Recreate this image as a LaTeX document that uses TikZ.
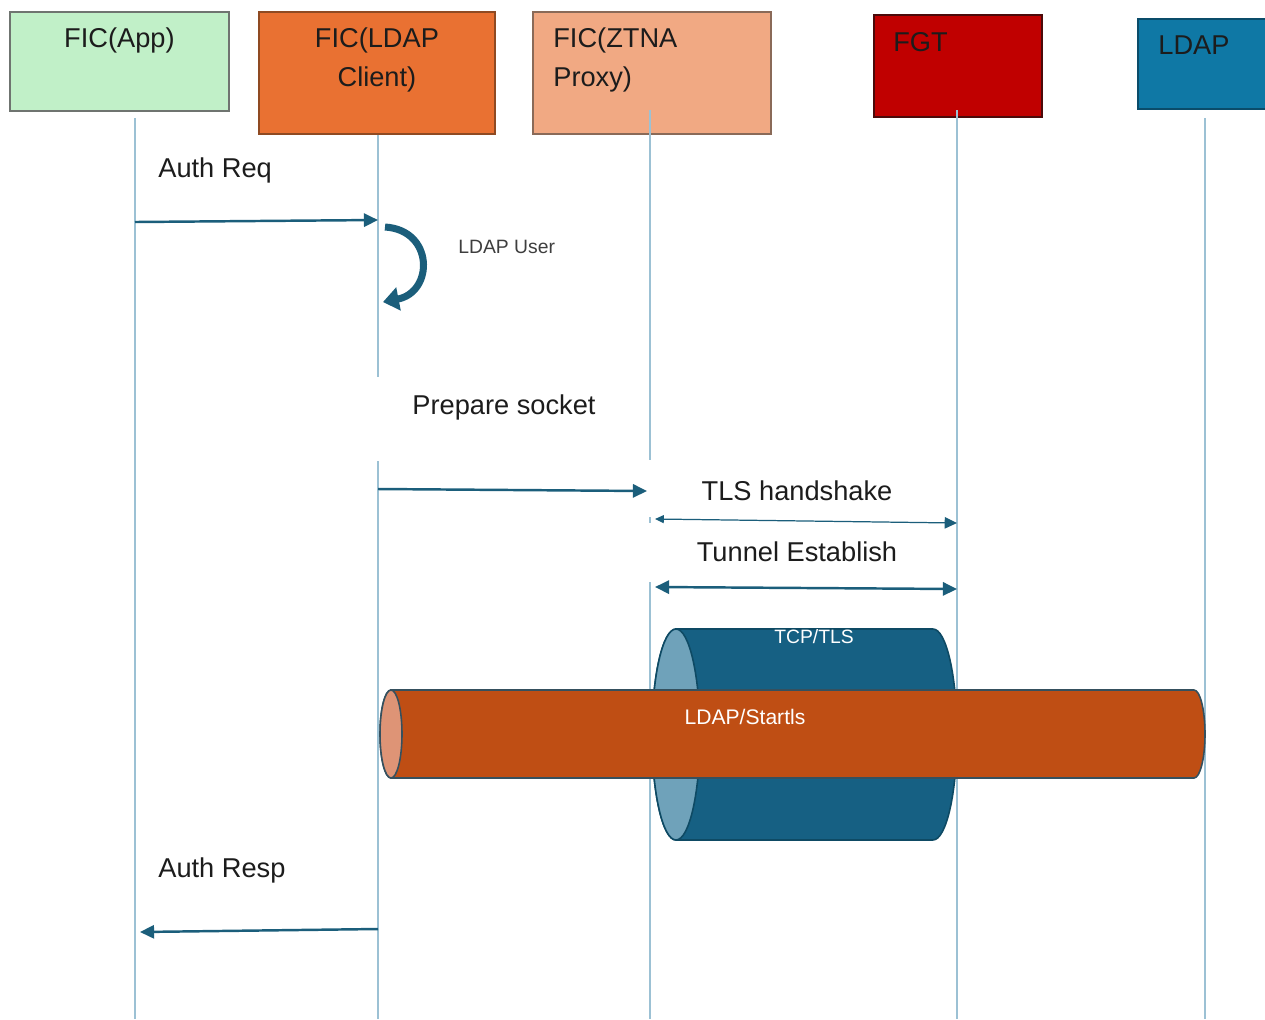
\documentclass[tikz,border=0pt]{standalone}
\usepackage{fontspec}
\setmainfont{Liberation Sans}
\usetikzlibrary{arrows.meta,positioning,shapes.geometric}
\definecolor{appfill}{HTML}{C1F0C8}
\definecolor{appedge}{HTML}{6F7470}
\definecolor{clifill}{HTML}{E97132}
\definecolor{cliedge}{HTML}{8F4A22}
\definecolor{ztfill}{HTML}{F1A983}
\definecolor{ztedge}{HTML}{8A6A58}
\definecolor{fgtfill}{HTML}{C00000}
\definecolor{fgtedge}{HTML}{4B0A0A}
\definecolor{ldapfill}{HTML}{0F78A5}
\definecolor{ldapedge}{HTML}{0A4C6A}
\definecolor{msgblue}{HTML}{1B5E7B}
\definecolor{lifeblue}{HTML}{9CC1D4}
\definecolor{tcpbody}{HTML}{166083}
\definecolor{tcpend}{HTML}{6FA2BA}
\definecolor{tcpedge}{HTML}{0E4A64}
\definecolor{tubebody}{HTML}{BF4E14}
\definecolor{tubeend}{HTML}{DE9476}
\definecolor{tubeedge}{HTML}{35505E}
\definecolor{ink}{HTML}{1C1C1C}
\tikzset{
  actor/.style={draw, line width=1.1pt, anchor=north west, inner sep=0pt},
  hdr/.style={font=\fontsize{15.5}{22.4}\selectfont, text=ink, inner sep=0pt},
  life/.style={draw=lifeblue, line width=0.9pt},
  ar/.style={-{Triangle[length=8pt,width=7.5pt]}, line width=1.4pt, draw=msgblue},
  arboth/.style={{Triangle[length=8pt,width=7.5pt]}-{Triangle[length=8pt,width=7.5pt]}, line width=1.4pt, draw=msgblue},
  arthin/.style={{Triangle[length=5pt,width=4.5pt]}-{Triangle[length=7pt,width=6.5pt]}, line width=0.7pt, draw=msgblue},
  selfar/.style={-{Triangle[length=9pt,width=13pt]}, line width=4pt, draw=msgblue},
  lbl/.style={font=\fontsize{15.5}{18}\selectfont, text=ink, inner sep=0pt},
  cover/.style={lbl, fill=white, anchor=north},
  tcptube/.style={fill=tcpbody, draw=tcpedge, line width=0.9pt},
  tcpface/.style={fill=tcpend, draw=tcpedge, line width=0.9pt},
  ldtube/.style={fill=tubebody, draw=tubeedge, line width=0.9pt},
  ldface/.style={fill=tubeend, draw=tubeedge, line width=0.9pt},
  tubelbl/.style={font=\fontsize{11}{13}\selectfont, text=white, inner sep=0pt, anchor=base}
}
\begin{document}
\begin{tikzpicture}[x=0.02cm,y=-0.02cm]
  \clip (0,0) rectangle (1265,1019);
  \fill[white] (0,0) rectangle (1265,1019);

  \node[actor, fill=appfill, draw=appedge, minimum width=4.38cm, minimum height=1.98cm,
        label={[hdr, anchor=north, yshift=-0.32cm]north:FIC(App)}] (app) at (9,11) {};
  \node[actor, fill=clifill, draw=cliedge, minimum width=4.72cm, minimum height=2.44cm,
        label={[hdr, anchor=north, align=center, yshift=-0.32cm]north:FIC(LDAP\\Client)}] (cli) at (258,11) {};
  \node[actor, fill=ztfill, draw=ztedge, minimum width=4.76cm, minimum height=2.44cm,
        label={[hdr, anchor=north west, align=left, xshift=0.42cm, yshift=-0.32cm]north west:FIC(ZTNA\\Proxy)}] (zt) at (532,11) {};
  \node[actor, fill=fgtfill, draw=fgtedge, minimum width=3.36cm, minimum height=2.04cm,
        label={[hdr, anchor=north west, xshift=0.4cm, yshift=-0.36cm]north west:FGT}] (fgt) at (873,14) {};
  \node[actor, fill=ldapfill, draw=ldapedge, minimum width=2.8cm, minimum height=1.8cm,
        label={[hdr, anchor=north west, xshift=0.42cm, yshift=-0.34cm]north west:LDAP}] (ldap) at (1137,18) {};

  \foreach \n/\x/\y in {app/135/118, cli/378/135, zt/650/110, fgt/957/110, ldap/1205/118} {
    \coordinate (\n-top) at (\x,\y);
    \coordinate (\n-bot) at (\x,1019);
    \draw[life] (\n-top) -- (\n-bot);
  }

  \coordinate (tcp-end) at (676,734.5);
  \coordinate (ld-end) at (391,734);
  \path[tcptube] (676,629) -- (933,629) arc[start angle=90, end angle=-90, x radius=0.48cm, y radius=2.11cm]
    -- (676,840) arc[start angle=270, end angle=90, x radius=0.48cm, y radius=2.11cm] -- cycle;
  \path[tcpface] (tcp-end) ellipse[x radius=0.48cm, y radius=2.11cm];
  \path[ldtube] (391,690) -- (1194,690) arc[start angle=90, end angle=-90, x radius=0.22cm, y radius=0.88cm]
    -- (391,778) arc[start angle=270, end angle=90, x radius=0.22cm, y radius=0.88cm] -- cycle;
  \path[ldface] (ld-end) ellipse[x radius=0.22cm, y radius=0.88cm];
  \node[tubelbl] (tcplbl) at (814,643) {TCP/TLS};
  \node[tubelbl, font=\fontsize{12}{14}\selectfont] (startlbl) at (745,724) {LDAP/Startls};

  \node[cover, minimum width=5.36cm, text height=0.74cm, text depth=0.94cm] (prep) at (504,377) {Prepare socket};
  \node[cover, minimum width=6.04cm, text height=0.8cm, text depth=0.34cm] (tls) at (797,460) {TLS handshake};
  \node[cover, minimum width=6.04cm, text height=0.76cm, text depth=0.42cm] (tun) at (797,523) {Tunnel Establish};

  \node[lbl, anchor=base west] (reqlbl) at (158,177) {Auth Req};
  \node[lbl, anchor=base west, font=\fontsize{11}{13}\selectfont, text=ink!85] (userlbl) at (458,253) {LDAP User};
  \node[lbl, anchor=base west] (resplbl) at (158,877) {Auth Resp};

  \foreach \n/\x/\y in {req-a/135/222, req-b/378/220, sock-a/378/489, sock-b/647/491,
                        tls-a/655/519, tls-b/957/523, tun-a/655/587, tun-b/957/589,
                        resp-a/378/929, resp-b/140/932, self-a/385/227, self-b/383/302}
    \coordinate (\n) at (\x,\y);
  \draw[ar] (req-a) -- (req-b);
  \draw[selfar] (self-a) .. controls (434,230) and (434,292) .. (self-b);
  \draw[ar] (sock-a) -- (sock-b);
  \draw[arthin] (tls-a) -- (tls-b);
  \draw[arboth] (tun-a) -- (tun-b);
  \draw[ar] (resp-a) -- (resp-b);
\end{tikzpicture}
\end{document}
